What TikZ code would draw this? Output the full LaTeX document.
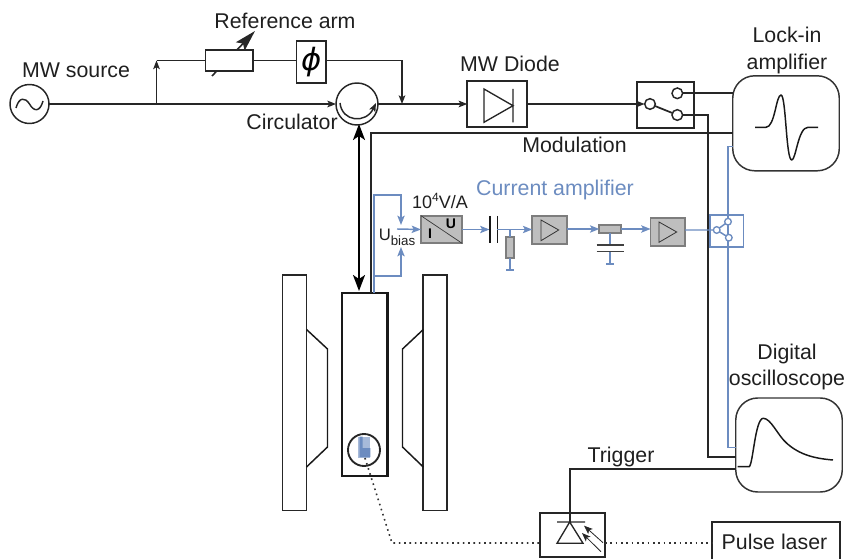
\documentclass[tikz,border=0pt]{standalone}
\usepackage{fontspec}
\setmainfont{Liberation Sans}
\newfontfamily\phifont{DejaVu Sans}
\usetikzlibrary{arrows.meta,calc}
\definecolor{bl}{RGB}{108,140,192}
\definecolor{gf}{RGB}{190,190,190}
\definecolor{ge}{RGB}{125,125,125}
\tikzset{
  sz/.style 2 args={minimum width=#1*0.75pt,minimum height=#2*0.75pt,inner sep=0pt,outer sep=0pt},
  lab/.style={inner sep=0pt,anchor=base,font=\fontsize{16}{18}\selectfont,text=black!88},
  wire/.style={line width=1.3pt,draw=black!85},
  thin wire/.style={line width=1.1pt,draw=black!85},
  bw/.style={line width=1.1pt,draw=bl},
  frame/.style={draw=black!85,line width=1.3pt,fill=white},
  pbox/.style={draw=black!80,line width=1.1pt,rounded corners=16.5pt,fill=white},
  gbox/.style={draw=ge,line width=1.3pt,fill=gf},
  term/.style={circle,draw=black!85,line width=1.1pt,fill=white,minimum size=8pt,inner sep=0pt,outer sep=0pt},
  bterm/.style={circle,draw=bl,line width=1pt,fill=white,minimum size=5pt,inner sep=0pt,outer sep=0pt},
  tip/.style={-{Stealth[length=6.5pt,width=5pt,inset=1.5pt]}},
  btip/.style={-{Stealth[length=7pt,width=5.5pt,inset=1.5pt]}},
  dots/.style={line width=1.2pt,draw=black!80,dash pattern=on 1.2pt off 2.8pt},
}
\begin{document}
\begin{tikzpicture}[x=0.75pt,y=-0.75pt]
\useasboundingbox (0,0) rectangle (845,559);
% nodes
\node[circle,draw=black!85,line width=1.1pt,sz={39}{39}] (src) at (29.5,104) {};
\draw[line width=1.1pt,draw=black!85] (16,108) .. controls (19,97) and (25,97) .. (29.5,104) .. controls (34,112) and (40,112) .. (43,101);
\draw[line width=1.2pt,draw=black!85,-{Stealth[length=16pt,width=9pt,inset=3pt]}] (212,76) -- (255,31);
\node[frame,sz={47.5}{21}] (att) at (229.2,60.5) {};
\node[frame,sz={29.5}{42}] (phase) at (311.2,62) {\phifont\itshape\fontsize{23}{25}\selectfont ϕ};
\node[circle,draw=black!85,line width=1.1pt,sz={42}{42}] (circ) at (357,104) {};
\node[frame,sz={59.5}{46}] (diode) at (497,104) {};
\node[frame,sz={57.5}{45.5}] (sw) at (665.5,105) {};
\node[term] (swc) at (650,104) {};
\node[term] (swu) at (677.3,93.3) {};
\node[term] (swl) at (677.3,115) {};
\node[pbox,sz={106.5}{95}] (lock) at (786,123.3) {};
\node[pbox,sz={106.5}{94}] (scope) at (789,445) {};
% magnets and holder
\node[frame,line width=1.4pt,sz={24}{235.5}] (magl) at (294.5,392.8) {};
\node[frame,line width=1.4pt,sz={24}{235.5}] (magr) at (435.3,392.8) {};
\node[draw=black!90,line width=1.7pt,fill=white,sz={45.5}{183.3}] (holder) at (364.8,384.4) {};
\draw[line width=1.1pt,draw=black!90] (magl.east |- 0,329.5) -- (327.5,349) -- (327.5,447) -- (magl.east |- 0,467);
\draw[line width=1.1pt,draw=black!90] (magr.west |- 0,329.5) -- (402.5,349) -- (402.5,447) -- (magr.west |- 0,467);
\fill[bl!60] (358.3,436.7) rectangle (370.3,458);
\fill[bl] (359.5,436.7) rectangle (362.5,448) (359.5,448) rectangle (370.3,457);
\node[circle,draw=black!85,line width=1.4pt,sz={32}{32}] (zoomc) at (364,450) {};
\coordinate (samp) at (365,458);
% boxes bottom
\node[frame,sz={65}{43.5}] (pd) at (572.5,535) {};
\node[inner sep=0pt,sz={128.3}{37.3}] (laser) at (776,540.5) {};
\draw[line width=1.1pt,draw=black!85] (laser.south west) |- (laser.north east) -- (laser.south east);
% top wiring
\coordinate (jb) at (156.5,104);
\coordinate (jt) at (156.5,60.5);
\coordinate (jr) at (402,60.5);
\coordinate (jd) at (402,104);
\draw[wire,tip] (src.east) -- (circ.west);
\draw[thin wire,tip] (jb) -- (jt);
\draw[wire] (jt) -- (att.west);
\draw[wire] (att.east) -- (phase.west |- att.east);
\draw[wire] (phase.east |- jr) -- (jr);
\draw[thin wire,tip] (jr) -- (jd);
\draw[wire,tip] (circ.east) -- (diode.west);
\draw[wire,tip] (diode.east) -- (swc.west);
\draw[wire] (swc) -- (swl);
\draw[wire] (swu.east) -- (swu.east -| lock.west);
\coordinate (sd) at (708,115);
\coordinate (se) at (708,457);
\draw[wire] (swl.east) -- (sd) -- (se) -- (se -| scope.west);
% circulator inner arrow
\draw[line width=1.1pt,draw=black!85,tip] (340,103) .. controls (342,122) and (366,124) .. (376,103);
% vertical thick double arrow
\draw[line width=1.6pt,draw=black,{Stealth[length=12pt,width=9pt,inset=3pt]}-{Stealth[length=12pt,width=9pt,inset=3pt]}] (359,124) -- (359,291);
% modulation
\coordinate (m1) at (371,133);
\draw[line width=1.4pt,draw=black!85] (holder.north -| m1) -- (m1) -- (m1 -| lock.west);
% blue bias
\coordinate (bb) at (374,293);
\coordinate (b1) at (374,195);
\coordinate (b2) at (401,195);
\coordinate (b3) at (374,276);
\coordinate (b4) at (401,276);
\draw[bw,btip] (bb) -- (b1) -- (b2) -- (401,225);
\draw[bw,btip] (b3) -- (b4) -- (401,247);
% amplifier chain
\node[gbox,sz={41}{27.5}] (iu) at (441.5,229.5) {};
\draw[line width=0.5pt,draw=black!80] (iu.north west) -- (iu.south east);
\node[inner sep=0pt,font=\bfseries\fontsize{10.5}{12}\selectfont] (iI) at (430,233.5) {I};
\node[inner sep=0pt,font=\bfseries\fontsize{10.5}{12}\selectfont] (iU) at (451,223.5) {U};
\node[gbox,sz={34.5}{28}] (a1) at (549.5,230) {};
\node[gbox,sz={34.5}{28}] (a2) at (667.8,231.7) {};
\draw[line width=0.6pt,draw=black!80] (541,220) -- (541,240.7) -- (558.7,230) -- cycle;
\draw[line width=0.6pt,draw=black!80] (659,222) -- (659,242.3) -- (676.7,232) -- cycle;
\coordinate (in0) at (397,229);
\draw[bw,btip] (in0) -- (iu.west);
\coordinate (c1) at (489.5,229.5);
\coordinate (c2) at (497.3,229.5);
\draw[bw,btip] (iu.east |- c1) -- (c1);
\draw[line width=1pt,draw=black!90] (490,216) -- (490,243) (497.3,216) -- (497.3,243);
\draw[bw,btip] (c2) -- (a1.west |- c2);
\node[gbox,sz={7.7}{21.6}] (r1) at (510,247.5) {};
\draw[bw] (r1.north |- c2) -- (r1.north);
\coordinate (g1) at (510,270);
\draw[bw] (r1.south) -- (g1);
\draw[bw] ($(g1)+(-4,0)$) -- ($(g1)+(4,0)$);
\node[gbox,sz={21.7}{7.7}] (r2) at (610.2,229) {};
\draw[bw,btip] (a1.east |- r2) -- (r2.west);
\draw[bw,btip] (r2.east) -- (a2.west |- r2);
\coordinate (p1) at (610.2,245);
\coordinate (p2) at (610.2,251.7);
\coordinate (g2) at (610.2,264);
\draw[bw] (r2.south) -- (p1) (p2) -- (g2);
\draw[bw] ($(g2)+(-4,0)$) -- ($(g2)+(4,0)$);
\draw[line width=1.1pt,draw=black!75] (596.7,245) -- (624,245) (596.7,251.7) -- (624,251.7);
% blue switch
\node[draw=bl,line width=1pt,fill=white,sz={33.3}{32.3}] (bsw) at (726.7,231) {};
\coordinate (bl1) at (728,146.7);
\coordinate (bl2) at (728,447.7);
\draw[bw] (bl1 -| lock.west) -- (bl1) -- (bl2) -- (bl2 -| scope.west);
\node[bterm] (bc) at (716.7,230) {};
\node[bterm] (bu) at (728,221.7) {};
\node[bterm] (bd) at (728.8,237.7) {};
\draw[bw] (a2.east |- bc) -- (bc) (bc) -- (bu) (bc) -- (bd);
% diode symbol
\draw[line width=1pt,draw=black!85] (484,89) -- (484,122.3) -- (513,105.7) -- cycle (513,89) -- (513,122.3);
% signals
\draw[line width=1.1pt,draw=black!90,line join=round] (755,127.3) -- (766,127.3) .. controls (775,127) and (776,95) .. (781,95) .. controls (786,95) and (786,160) .. (791.7,160) .. controls (796,160) and (798,127.3) .. (808,127.3) -- (818,127.3);
\draw[line width=1.1pt,draw=black!90] (737.7,466.7) -- (749,466.7) .. controls (753,466) and (755,418.3) .. (763.3,418.3) .. controls (771,418.3) and (778,436) .. (787,443.5) .. controls (800,455) and (815,458.5) .. (833,460);
% photodiode
\coordinate (pa) at (569.7,522.5);
\coordinate (pt) at (569.7,469.3);
\draw[wire] (pa) -- (pt) -- (pt -| scope.west);
\draw[line width=1pt,draw=black!85] (557,522) -- (585,522) (569.7,522) -- (557,543.3) -- (583,543.3) -- cycle;
\draw[line width=0.6pt,draw=black!85,tip] (601,551.7) -- (582,533);
\draw[line width=0.6pt,draw=black!85,tip] (603,542.7) -- (584,525.7);
% dotted
\coordinate (dk) at (392,543);
\draw[dots] (samp) -- (dk) -- (dk -| pd.west);
\draw[dots] (pd.east |- dk) -- (dk -| laser.west);
% labels
\node[lab] (t1) at (285,29) {Reference arm};
\node[lab] (t2) at (76,78) {MW source};
\node[lab] (t3) at (292,130) {Circulator};
\node[lab] (t4) at (510,71.7) {MW Diode};
\node[lab] (t5) at (787,43) {Lock-in};
\node[lab] (t6) at (787,70) {amplifier};
\node[lab] (t7) at (574.5,153) {Modulation};
\node[lab,text=bl] (t8) at (555,196) {Current amplifier};
\node[lab] (t9) at (787,359) {Digital};
\node[lab] (t10) at (787,385) {oscilloscope};
\node[lab] (t11) at (621,462) {Trigger};
\node[lab] (t12) at (774.5,549) {Pulse laser};
\node[lab,font=\fontsize{13.5}{15}\selectfont] (t13) at (440,209) {10\raisebox{0.42em}{\fontsize{9}{10}\selectfont 4}V/A};
\node[lab,font=\fontsize{12.5}{14}\selectfont] (t14) at (397,241) {U\raisebox{-0.3em}{\fontsize{10}{12}\selectfont bias}};
\end{tikzpicture}
\end{document}
